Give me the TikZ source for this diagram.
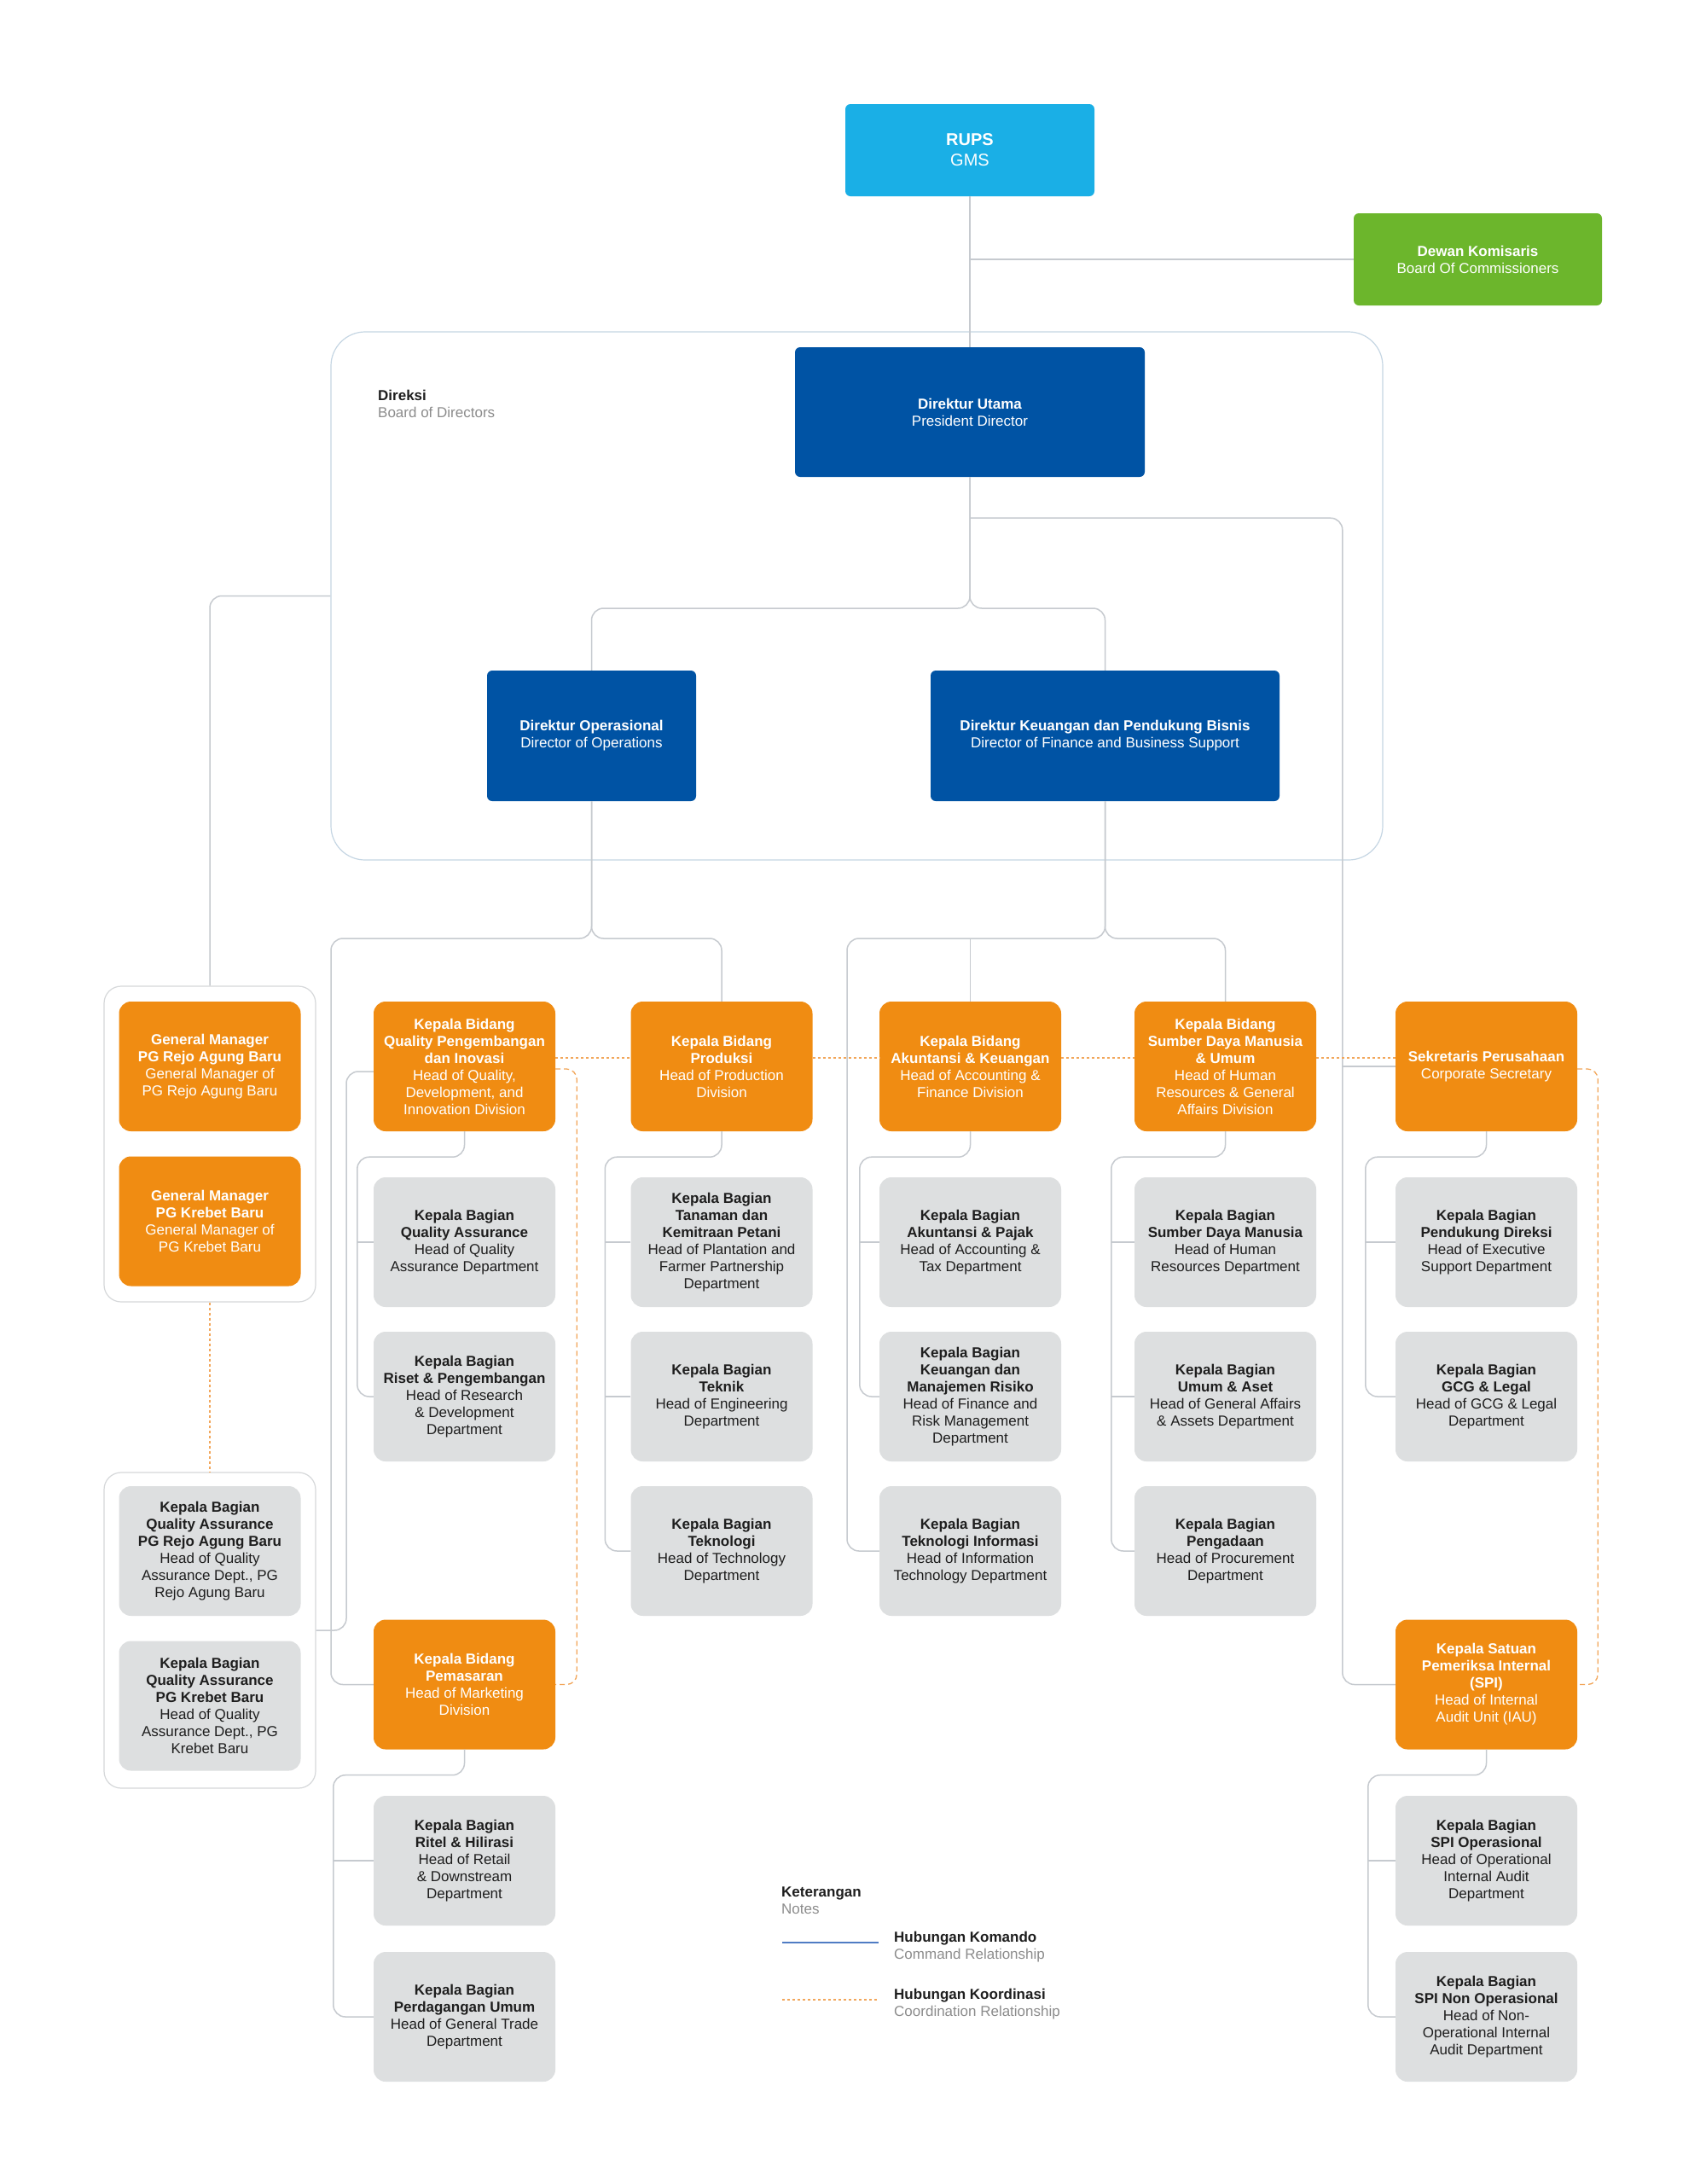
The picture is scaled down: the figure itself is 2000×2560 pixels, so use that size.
\documentclass[tikz,border=0pt]{standalone}
\usepackage{fontspec}
\setmainfont{Liberation Sans}
\usetikzlibrary{calc,positioning}
\definecolor{rupsblue}{HTML}{1AAFE6}
\definecolor{comgreen}{HTML}{6CB62C}
\definecolor{dirblue}{HTML}{0053A4}
\definecolor{orgorange}{HTML}{F08C12}
\definecolor{deptgray}{HTML}{DDDFE0}
\definecolor{textdark}{HTML}{1E1E1E}
\definecolor{notegray}{HTML}{8C8C8C}
\definecolor{linegray}{HTML}{C6CACF}
\definecolor{panelgray}{HTML}{D6D8DA}
\definecolor{direksiblue}{HTML}{C5D6E3}
\definecolor{legendblue}{HTML}{4F7CC4}
\definecolor{coordorange}{HTML}{F2A65A}
\newcommand{\subtree}[3]{\draw[cmd] (#1.south) -- ++(0,30) -| ($(#2.west)+(-#3,0)$) -- (#2.west);}
\newcommand{\ticksub}[2]{\draw[cmd] (#1.west) -- ++(-#2,0);}
\tikzset{
  unit/.style={rectangle, rounded corners=14, minimum width=213, minimum height=152, inner sep=0pt, align=center, font=\fontsize{17}{20}\selectfont},
  headunit/.style={unit, fill=orgorange, text=white},
  deptunit/.style={unit, fill=deptgray, text=textdark},
  director/.style={rectangle, rounded corners=6, fill=dirblue, text=white, minimum height=152, inner sep=0pt, align=center, font=\fontsize{17}{20}\selectfont},
  panel/.style={rectangle, draw=panelgray, line width=1.2, inner sep=0pt, rounded corners=20},
  cmd/.style={draw=linegray, line width=1.5, rounded corners=14},
  coord/.style={draw=coordorange, line width=1.3, dash pattern=on 3 off 3},
  coordv/.style={draw=coordorange, line width=1.3, dash pattern=on 6 off 4, rounded corners=12},
  note/.style={anchor=west, align=left, inner sep=0pt, text=textdark, font=\fontsize{17}{20}\selectfont},
}
\begin{document}
\begin{tikzpicture}[x=1pt,y=-1pt]
\fill[white] (0,0) rectangle (2000,2560);
\useasboundingbox (0,0) rectangle (2000,2560);

% top
\node[director, fill=rupsblue, minimum width=292, minimum height=108, font=\fontsize{20}{24}\selectfont] (rups) at (1137,176) {\textbf{RUPS}\\GMS};
\node[director, fill=comgreen, minimum width=291, minimum height=108] (dewan) at (1732.5,304) {\textbf{Dewan Komisaris}\\Board Of Commissioners};

% board of directors
\node[panel, draw=direksiblue, rounded corners=40, minimum width=1233, minimum height=619] (direksi) at (1004.5,698.5) {};
\node[note] (direksilabel) at (443,473) {\textbf{Direksi}\\\textcolor{notegray}{Board of Directors}};
\node[director, minimum width=410] (dirut) at (1137,483) {\textbf{Direktur Utama}\\President Director};
\node[director, minimum width=245, minimum height=153] (dirops) at (693.5,862.5) {\textbf{Direktur Operasional}\\Director of Operations};
\node[director, minimum width=409, minimum height=153] (dirkeu) at (1295.5,862.5) {\textbf{Direktur Keuangan dan Pendukung Bisnis}\\Director of Finance and Business Support};

% general managers
\node[panel, minimum width=248, minimum height=370] (gmcont) at (246,1341) {};
\node[headunit] (gmrejo) at (246,1250) {\textbf{General Manager}\\\textbf{PG Rejo Agung Baru}\\General Manager of\\PG Rejo Agung Baru};
\node[headunit] (gmkrebet) at (246,1431.5) {\textbf{General Manager}\\\textbf{PG Krebet Baru}\\General Manager of\\PG Krebet Baru};
\node[panel, minimum width=248, minimum height=370] (qacont) at (246,1911) {};
\node[deptunit] (qarejo) at (246,1818) {\textbf{Kepala Bagian}\\\textbf{Quality Assurance}\\\textbf{PG Rejo Agung Baru}\\Head of Quality\\Assurance Dept., PG\\Rejo Agung Baru};
\node[deptunit] (qakrebet) at (246,1999.5) {\textbf{Kepala Bagian}\\\textbf{Quality Assurance}\\\textbf{PG Krebet Baru}\\Head of Quality\\Assurance Dept., PG\\Krebet Baru};

% quality, marketing
\node[headunit] (qpi) at (544.5,1250) {\textbf{Kepala Bidang}\\\textbf{Quality Pengembangan}\\\textbf{dan Inovasi}\\Head of Quality,\\Development, and\\Innovation Division};
\node[deptunit] (qa) at (544.5,1456) {\textbf{Kepala Bagian}\\\textbf{Quality Assurance}\\Head of Quality\\Assurance Department};
\node[deptunit] (rnd) at (544.5,1637) {\textbf{Kepala Bagian}\\\textbf{Riset \& Pengembangan}\\Head of Research\\\& Development\\Department};
\node[headunit] (pemasaran) at (544.5,1974.5) {\textbf{Kepala Bidang}\\\textbf{Pemasaran}\\Head of Marketing\\Division};
\node[deptunit] (ritel) at (544.5,2181) {\textbf{Kepala Bagian}\\\textbf{Ritel \& Hilirasi}\\Head of Retail\\\& Downstream\\Department};
\node[deptunit] (dagang) at (544.5,2364) {\textbf{Kepala Bagian}\\\textbf{Perdagangan Umum}\\Head of General Trade\\Department};

% production
\node[headunit] (prod) at (846,1250) {\textbf{Kepala Bidang}\\\textbf{Produksi}\\Head of Production\\Division};
\node[deptunit] (tanaman) at (846,1456) {\textbf{Kepala Bagian}\\\textbf{Tanaman dan}\\\textbf{Kemitraan Petani}\\Head of Plantation and\\Farmer Partnership\\Department};
\node[deptunit] (teknik) at (846,1637) {\textbf{Kepala Bagian}\\\textbf{Teknik}\\Head of Engineering\\Department};
\node[deptunit] (teknologi) at (846,1818) {\textbf{Kepala Bagian}\\\textbf{Teknologi}\\Head of Technology\\Department};

% accounting
\node[headunit] (akun) at (1137.5,1250) {\textbf{Kepala Bidang}\\\textbf{Akuntansi \& Keuangan}\\Head of Accounting \&\\Finance Division};
\node[deptunit] (akpajak) at (1137.5,1456) {\textbf{Kepala Bagian}\\\textbf{Akuntansi \& Pajak}\\Head of Accounting \&\\Tax Department};
\node[deptunit] (kmr) at (1137.5,1637) {\textbf{Kepala Bagian}\\\textbf{Keuangan dan}\\\textbf{Manajemen Risiko}\\Head of Finance and\\Risk Management\\Department};
\node[deptunit] (ti) at (1137.5,1818) {\textbf{Kepala Bagian}\\\textbf{Teknologi Informasi}\\Head of Information\\Technology Department};

% human resources
\node[headunit] (sdm) at (1436.5,1250) {\textbf{Kepala Bidang}\\\textbf{Sumber Daya Manusia}\\\textbf{\& Umum}\\Head of Human\\Resources \& General\\Affairs Division};
\node[deptunit] (sdmdept) at (1436.5,1456) {\textbf{Kepala Bagian}\\\textbf{Sumber Daya Manusia}\\Head of Human\\Resources Department};
\node[deptunit] (umum) at (1436.5,1637) {\textbf{Kepala Bagian}\\\textbf{Umum \& Aset}\\Head of General Affairs\\\& Assets Department};
\node[deptunit] (pengadaan) at (1436.5,1818) {\textbf{Kepala Bagian}\\\textbf{Pengadaan}\\Head of Procurement\\Department};

% secretary, audit
\node[headunit] (sekper) at (1742.5,1250) {\textbf{Sekretaris Perusahaan}\\Corporate Secretary};
\node[deptunit] (pendukung) at (1742.5,1456) {\textbf{Kepala Bagian}\\\textbf{Pendukung Direksi}\\Head of Executive\\Support Department};
\node[deptunit] (gcg) at (1742.5,1637) {\textbf{Kepala Bagian}\\\textbf{GCG \& Legal}\\Head of GCG \& Legal\\Department};
\node[headunit] (spi) at (1742.5,1974.5) {\textbf{Kepala Satuan}\\\textbf{Pemeriksa Internal}\\\textbf{(SPI)}\\Head of Internal\\Audit Unit (IAU)};
\node[deptunit] (spiop) at (1742.5,2181) {\textbf{Kepala Bagian}\\\textbf{SPI Operasional}\\Head of Operational\\Internal Audit\\Department};
\node[deptunit] (spinonop) at (1742.5,2364) {\textbf{Kepala Bagian}\\\textbf{SPI Non Operasional}\\Head of Non-\\Operational Internal\\Audit Department};

% command lines
\draw[cmd] (rups.south) -- (dirut.north);
\draw[cmd] (dewan.west) -- (dewan.west -| rups.south);
\draw[cmd] (dirut.south) |- (693.5,713) -- (dirops.north);
\draw[cmd] (dirut.south) |- (1295.5,713) -- (dirkeu.north);
\draw[cmd] ($(dirut.south)+(0,48)$) -| ($(spi.west)+(-62,0)$) -- (spi.west);
\draw[cmd] (sekper.west) -- ++(-62,0);
\draw[cmd] (direksi.west) -| (gmcont.north);
\draw[cmd] (dirops.south) |- (388,1100) |- (pemasaran.west);
\draw[cmd] (dirops.south) |- (846,1100) -- (prod.north);
\draw[cmd] (dirkeu.south) |- (993,1100) |- (ti.west);
\draw[cmd] (dirkeu.south) |- (1436.5,1100) -- (sdm.north);
\draw[cmd] (akun.north) -- ++(0,-74);
\draw[cmd] ($(qpi.west)+(0,6)$) -| (406,1911) -- (qacont.east);

\subtree{qpi}{rnd}{19}
\ticksub{qa}{19}
\subtree{prod}{teknologi}{30}
\ticksub{tanaman}{30}
\ticksub{teknik}{30}
\subtree{akun}{kmr}{23}
\ticksub{akpajak}{23}
\subtree{sdm}{pengadaan}{27}
\ticksub{sdmdept}{27}
\ticksub{umum}{27}
\subtree{sekper}{gcg}{35}
\ticksub{pendukung}{35}
\subtree{pemasaran}{dagang}{47}
\ticksub{ritel}{47}
\subtree{spi}{spinonop}{32}
\ticksub{spiop}{32}

% coordination lines
\foreach \a/\b in {qpi/prod,prod/akun,akun/sdm,sdm/sekper}
  \draw[coord] ($(\a.east)+(0,-10)$) -- ($(\b.west)+(0,-10)$);
\draw[coordv] ($(qpi.east)+(0,3)$) -| ($(pemasaran.east)+(25,0)$) -- (pemasaran.east);
\draw[coordv] ($(sekper.east)+(0,3)$) -| ($(spi.east)+(24,0)$) -- (spi.east);
\draw[coord] (gmcont.south) -- (qacont.north);

% legend
\node[note] (keterangan) at (916,2228) {\textbf{Keterangan}\\\textcolor{notegray}{Notes}};
\node[note] (komando) at (1048,2282) {\textbf{Hubungan Komando}\\\textcolor{notegray}{Command Relationship}};
\node[note] (koordinasi) at (1048,2349) {\textbf{Hubungan Koordinasi}\\\textcolor{notegray}{Coordination Relationship}};
\draw[draw=legendblue, line width=1.5] ($(komando.west)+(-131,-5)$) -- ++(113,0);
\draw[coord] ($(koordinasi.west)+(-131,-5)$) -- ++(113,0);
\end{tikzpicture}
\end{document}
